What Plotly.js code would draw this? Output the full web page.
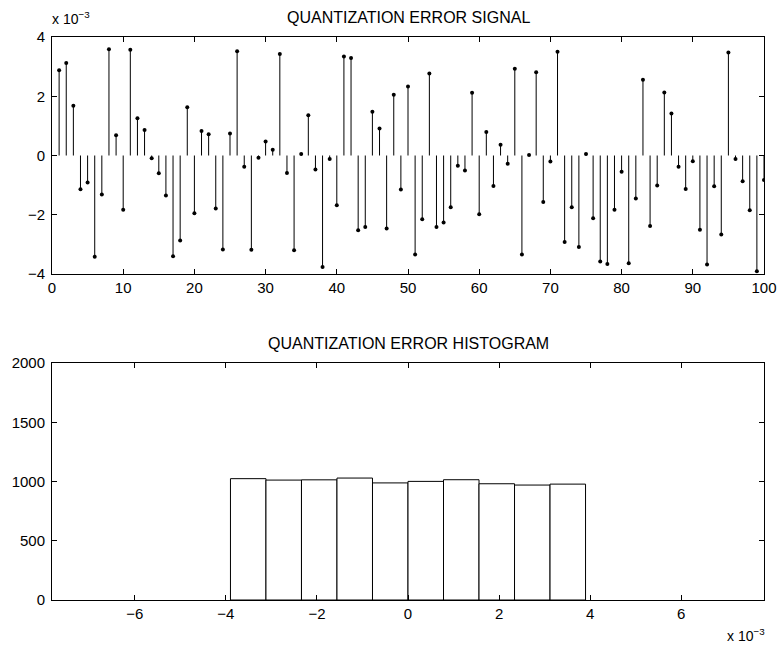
<!DOCTYPE html>
<html>
<head>
<meta charset="utf-8">
<script src="https://cdn.plot.ly/plotly-3.0.1.min.js"></script>
<style>html,body{margin:0;padding:0;background:#fff;}#chart{width:778px;height:647px;}</style>
</head>
<body>
<div id="chart"></div>
<script>
// Quantization error signal, samples n = 1..100, values in units of 1e-3
const sampleIndex = Array.from({length: 100}, (_, i) => i + 1);
const errorSignal_e3 = [
  2.88, 3.12, 1.68, -1.14, -0.91, -3.42, -1.32, 3.59, 0.68, -1.83,
  3.57, 1.26, 0.86, -0.09, -0.60, -1.35, -3.40, -2.87, 1.63, -1.95,
  0.83, 0.72, -1.79, -3.17, 0.74, 3.52, -0.38, -3.18, -0.08, 0.47,
  0.19, 3.43, -0.59, -3.20, 0.05, 1.36, -0.47, -3.76, -0.12, -1.68,
  3.34, 3.29, -2.52, -2.41, 1.48, 0.91, -2.46, 2.05, -1.15, 2.33,
  -3.34, -2.15, 2.77, -2.41, -2.26, -1.75, -0.35, -0.51, 2.12, -1.98,
  0.79, -1.03, 0.36, -0.28, 2.93, -3.34, 0.02, 2.81, -1.57, -0.20,
  3.50, -2.92, -1.75, -3.09, 0.05, -2.12, -3.58, -3.66, -1.83, -0.55,
  -3.64, -1.45, 2.56, -2.38, -1.01, 2.13, 1.42, -0.38, -1.13, -0.19,
  -2.51, -3.68, -1.04, -2.67, 3.48, -0.12, -0.87, -1.85, -3.91, -0.83
];

// Histogram of the quantization error: bin centres (units of 1e-3) and counts
const binCenters_e3 = [-3.51, -2.73, -1.95, -1.17, -0.39, 0.39, 1.17, 1.95, 2.73, 3.51];
const binCounts = [1024, 1012, 1014, 1029, 988, 1001, 1015, 981, 970, 978];
const binWidth_e3 = 0.78;

const topTicks = [0, 10, 20, 30, 40, 50, 60, 70, 80, 90, 100];
const topYTicks = [-4, -2, 0, 2, 4];
const histXTicks = [-6, -4, -2, 0, 2, 4, 6];
const histYTicks = [0, 500, 1000, 1500, 2000];

const titleTop = 'QUANTIZATION ERROR SIGNAL';
const titleBottom = 'QUANTIZATION ERROR HISTOGRAM';
const scaleLabel = 'x 10<sup>−3</sup>';

// stems built from the data via the library's axes
const stemX = [], stemY = [];
sampleIndex.forEach((n, i) => { stemX.push(n, n, null); stemY.push(0, errorSignal_e3[i], null); });

const W = 778, H = 647;
const FONT = 'Liberation Sans, Arial, sans-serif';
const xd = [52 / W, 764 / W];
const topDom = [1 - 274 / H, 1 - 37 / H];
const botDom = [1 - 600 / H, 1 - 363 / H];

const axisCommon = {
  showgrid: false, zeroline: false, showline: true, linecolor: '#000', linewidth: 1,
  mirror: 'ticks', ticks: 'inside', ticklen: 5, tickcolor: '#000', tickwidth: 1,
  tickfont: {family: FONT, size: 15, color: '#000'}, fixedrange: true
};

const data = [
  {x: stemX, y: stemY, type: 'scatter', mode: 'lines', line: {color: '#000', width: 1},
   xaxis: 'x', yaxis: 'y', hoverinfo: 'skip', showlegend: false},
  {x: sampleIndex, y: errorSignal_e3, type: 'scatter', mode: 'markers',
   marker: {color: '#000', size: 4}, xaxis: 'x', yaxis: 'y', showlegend: false},
  {x: binCenters_e3, y: binCounts, type: 'bar', width: binWidth_e3,
   marker: {color: '#fff', line: {color: '#000', width: 1}},
   xaxis: 'x2', yaxis: 'y2', showlegend: false}
];

const layout = {
  width: W, height: H, margin: {l: 0, r: 0, t: 0, b: 0},
  paper_bgcolor: '#fff', plot_bgcolor: '#fff', showlegend: false,
  font: {family: FONT, color: '#000'},
  xaxis: Object.assign({}, axisCommon, {domain: xd, anchor: 'y', range: [0, 100],
    tickmode: 'array', tickvals: topTicks, ticklabelstandoff: 0}),
  yaxis: Object.assign({}, axisCommon, {domain: topDom, anchor: 'x', range: [-4, 4],
    tickmode: 'array', tickvals: topYTicks, ticklabelstandoff: 3}),
  xaxis2: Object.assign({}, axisCommon, {domain: xd, anchor: 'y2', range: [-7.82, 7.82],
    tickmode: 'array', tickvals: histXTicks, ticklabelstandoff: 0}),
  yaxis2: Object.assign({}, axisCommon, {domain: botDom, anchor: 'x2', range: [0, 2000],
    tickmode: 'array', tickvals: histYTicks, ticklabelstandoff: 3}),
  bargap: 0,
  annotations: [
    {text: titleTop, xref: 'paper', yref: 'paper', x: (xd[0] + xd[1]) / 2, y: 1 - 17 / H,
     xanchor: 'center', yanchor: 'middle', showarrow: false, font: {family: FONT, size: 16, color: '#000'}},
    {text: titleBottom, xref: 'paper', yref: 'paper', x: (xd[0] + xd[1]) / 2, y: 1 - 343 / H,
     xanchor: 'center', yanchor: 'middle', showarrow: false, font: {family: FONT, size: 16, color: '#000'}},
    {text: scaleLabel, xref: 'paper', yref: 'paper', x: 50 / W, y: 1 - 18 / H,
     xanchor: 'left', yanchor: 'middle', showarrow: false, font: {family: FONT, size: 14, color: '#000'}},
    {text: scaleLabel, xref: 'paper', yref: 'paper', x: 767 / W, y: 1 - 635 / H,
     xanchor: 'right', yanchor: 'middle', showarrow: false, font: {family: FONT, size: 14, color: '#000'}}
  ]
};

Plotly.newPlot('chart', data, layout, {staticPlot: true, displayModeBar: false});
</script>
</body>
</html>
